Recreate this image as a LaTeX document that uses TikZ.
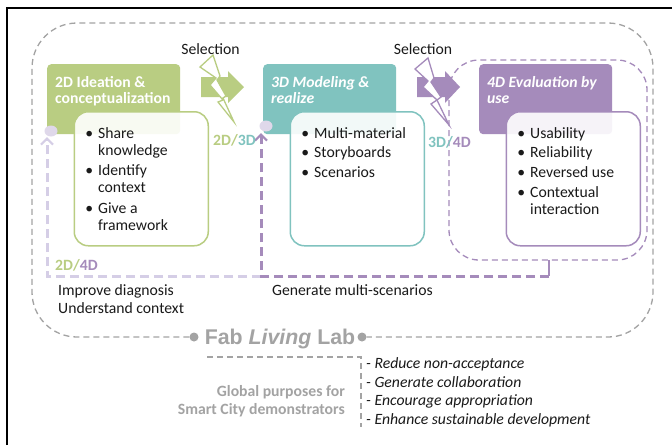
\documentclass[tikz,border=0pt]{standalone}
\usepackage{fontspec}
\setmainfont{Carlito}
\newfontfamily\labfont{Liberation Sans}
\usetikzlibrary{arrows.meta,shapes.geometric}
\definecolor{cgreen}{HTML}{B9CD82}
\definecolor{cteal}{HTML}{80C3BF}
\definecolor{cpurple}{HTML}{A58BBB}
\definecolor{clight}{HTML}{D5CEE6}
\definecolor{ccap}{HTML}{DFD8EA}
\definecolor{cgray}{HTML}{A3A3A3}
\definecolor{ctxt}{HTML}{1A1A1A}
\newcommand{\bul}{\makebox[0pt][r]{\textbullet\hspace{5pt}}}
\tikzset{
  head/.style={rectangle,rounded corners=4pt,minimum width=133pt,minimum height=70pt,anchor=north west,inner sep=0pt},
  panel/.style={rectangle,rounded corners=14pt,minimum width=134pt,minimum height=134pt,anchor=north west,inner sep=0pt,line width=1.5pt,fill=white,fill opacity=.9},
  headtxt/.style={anchor=north west,inner sep=0pt,text=white,align=left,font=\fontsize{15.7}{16}\selectfont\bfseries},
  bodytxt/.style={anchor=north west,inner sep=0pt,text=ctxt,align=left,font=\fontsize{15.7}{17}\selectfont},
  plain/.style={inner sep=0pt,text=ctxt,font=\fontsize{15.7}{18}\selectfont},
  dimtxt/.style={inner sep=0pt,font=\fontsize{15.7}{16}\selectfont\bfseries},
  outer/.style={draw=cgray,line width=1.3pt,dash pattern=on 6pt off 4pt},
  fbline/.style={line width=3pt,dash pattern=on 9pt off 5pt},
  fbhead/.style={-{Straight Barb[length=6pt,width=12pt,line width=2.2pt]}},
  endcap/.style={ellipse,minimum width=13pt,minimum height=11pt,inner sep=0pt,fill=ccap},
  graydot/.style={circle,fill=cgray,minimum size=9pt,inner sep=0pt},
  bolt/.style={line width=1.3pt,fill=white,line join=miter},
}
\begin{document}
\begin{tikzpicture}[x=1pt,y=-1pt]
\useasboundingbox (0,0) rectangle (672,445);
\fill[white] (0,0) rectangle (672,445);
% image frame
\draw[black,line width=1.6pt] (7,445) -- (7,8) -- (672,8);
% outer living-lab loop
\node[graydot] (dotl) at (194,337) {};
\node[graydot] (dotr) at (362,337) {};
\draw[outer] (dotl) -- (77,337) arc[start angle=90,end angle=180,radius=45] -- (32,68)
  arc[start angle=180,end angle=270,radius=45] -- (608,23)
  arc[start angle=270,end angle=360,radius=45] -- (653,292)
  arc[start angle=0,end angle=90,radius=45] -- (dotr);
% 4D dashed frame
\draw[cpurple,line width=1.3pt,dash pattern=on 6pt off 4pt,rounded corners=30pt] (449,60) rectangle (647,260);
% feedback lines
\coordinate (stub) at (549,260);
\coordinate (fbr) at (549,276);
\coordinate (fbm) at (261,276);
\coordinate (fbl) at (47,276);
\coordinate (t1) at (47,137);
\coordinate (t2) at (261,133);
\draw[fbline,clight,fbhead] (fbm) -- (fbl) -- (t1);
\draw[cpurple,line width=2pt] (stub) -- (fbr);
\draw[fbline,cpurple,fbhead] (fbr) -- (fbm) -- (t2);
% stage headers
\node[head,fill=cgreen] (h2) at (47,64) {};
\node[head,fill=cteal] (h3) at (263,64) {};
\node[head,fill=cpurple] (h4) at (479,64) {};
\node[headtxt] (h2t) at (55,76) {2D Ideation \&\\conceptualization};
\node[headtxt] (h3t) at (271,76) {\itshape 3D Modeling \&\\\itshape realize};
\node[headtxt] (h4t) at (487,76) {\itshape 4D Evaluation by\\\itshape use};
% stage panels
\node[panel,draw=cgreen] (p2) at (73.5,111) {};
\node[panel,draw=cteal] (p3) at (289.5,111) {};
\node[panel,draw=cpurple] (p4) at (505.5,111) {};
\node[bodytxt] (b2) at (98,127) {\bul Share\\knowledge\\[3.5pt]\bul Identify\\context\\[3.5pt]\bul Give a\\framework};
\node[bodytxt] (b3) at (314,127) {\bul Multi-material\\[2.5pt]\bul Storyboards\\[2.5pt]\bul Scenarios};
\node[bodytxt] (b4) at (530,127) {\bul Usability\\[2.5pt]\bul Reliability\\[2.5pt]\bul Reversed use\\[3.5pt]\bul Contextual\\interaction};
% end caps
\node[endcap] (c1) at (51,131) {};
\node[endcap] (c2) at (266,126) {};
% selection arrows and bolts
\fill[cgreen] (201,77) -- (228,77) -- (228,71) -- (244,87) -- (228,103) -- (228,97) -- (201,97) -- cycle;
\draw[bolt,draw=cgreen] (213,55) -- (220,76) -- (217,80) -- (226,96) -- (223,98) -- (234,122) -- (218,102) -- (223,100) -- (210,85) -- (216,78) -- (200,67) -- cycle;
\fill[cpurple] (417,77) -- (445,77) -- (445,71) -- (460,87) -- (445,103) -- (445,97) -- (417,97) -- cycle;
\draw[bolt,draw=cpurple] (428,58) -- (434,78) -- (431,82) -- (441,97) -- (437,100) -- (449,125) -- (431,104) -- (437,100) -- (423,87) -- (428,81) -- (415,69) -- cycle;
\node[plain] (s1) at (210.5,49) {Selection};
\node[plain] (s2) at (423,49) {Selection};
% dimension labels
\node[dimtxt,anchor=west] (d1) at (213,140) {\color{cgreen}2D/\color{cteal}3D};
\node[dimtxt,anchor=west] (d2) at (428,142) {\color{cteal}3D/\color{cpurple}4D};
\node[dimtxt,anchor=west] (d3) at (55,265) {\color{cgreen}2D/\color{cpurple}4D};
% captions
\node[plain,anchor=north west,align=left] (imp) at (58,284) {Improve diagnosis\\Understand context};
\node[plain,anchor=west] (gen) at (272,290) {Generate multi-scenarios};
\node[inner sep=0pt,text=cgray,font=\labfont\fontsize{21.3}{22}\selectfont\bfseries] (lab) at (280,339) {Fab \textit{Living} Lab};
% global purposes
\coordinate (gs) at (207,357);
\coordinate (gc) at (361,357);
\coordinate (ge) at (361,427);
\draw[outer] (gs) -- (gc) -- (ge);
\node[inner sep=0pt,anchor=north east,align=right,text=cgray,font=\fontsize{15.7}{18}\selectfont\bfseries] (glob) at (345,385.5) {Global purposes for\\Smart City demonstrators};
\node[plain,anchor=north west,align=left,font=\fontsize{15.7}{18.5}\selectfont\itshape] (list) at (366,357.5) {- Reduce non-acceptance\\- Generate collaboration\\- Encourage appropriation\\- Enhance sustainable development};
\end{tikzpicture}
\end{document}
